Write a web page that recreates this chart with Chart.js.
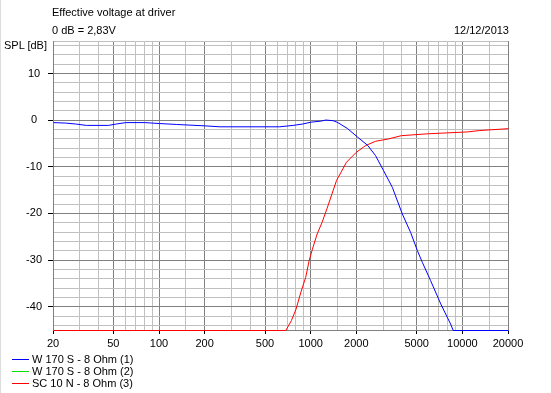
<!DOCTYPE html>
<html>
<head>
<meta charset="utf-8">
<script src="https://cdn.jsdelivr.net/npm/chart.js@4"></script>
<style>
  body { margin: 0; background: #fff; }
  #wrap { position: relative; width: 551px; height: 393px; overflow: hidden; border-left: 1px solid #dcdcdc; box-sizing: border-box; }
  canvas { position: absolute; left: -1px; top: 0; }
  .txt { position: absolute; font: 11px "Liberation Sans", Arial, sans-serif; color: #000; white-space: nowrap; line-height: 12px; }
</style>
</head>
<body>
<div id="wrap">
  <canvas id="spl-chart" width="551" height="393"></canvas>
  <div class="txt" style="left:51px; top:6px;">Effective voltage at driver</div>
  <div class="txt" style="left:51px; top:24px;">0 dB = 2,83V</div>
  <div class="txt" style="right:42px; top:24px;">12/12/2013</div>
  <div class="txt" style="right:504px; top:39px;">SPL [dB]</div>
</div>
<script>
// W 170 S woofer (1); (2) is the same driver and sits hidden under it
const wooferFreq = [20, 24, 28, 33, 46, 52, 60, 80, 100, 130, 200, 250, 620, 760, 880, 1000, 1150, 1250, 1400, 1500, 1740, 2020, 2360, 2660, 3000, 3430, 3990, 4530, 5020, 5410, 6130, 7150, 8300, 8650, 20000];
const wooferSpl = [-0.4, -0.5, -0.7, -1.0, -1.0, -0.7, -0.4, -0.4, -0.6, -0.8, -1.1, -1.3, -1.3, -1.0, -0.7, -0.3, -0.1, 0.15, 0.0, -0.4, -1.7, -3.5, -5.3, -7.5, -10.7, -14.3, -20, -24, -27.9, -30.4, -34.3, -39.3, -43.6, -45, -45];

// SC 10 N tweeter (3)
const tweeterFreq = [20, 680, 740, 795, 855, 920, 970, 1020, 1095, 1180, 1270, 1470, 1710, 1980, 2290, 2660, 3240, 3930, 5890, 7920, 10700, 12950, 20000];
const tweeterSpl = [-45, -45, -42.9, -40.4, -36.8, -33.6, -30, -27.5, -24.3, -21.8, -18.9, -12.8, -8.9, -6.8, -5.3, -4.4, -3.9, -3.2, -2.8, -2.6, -2.4, -2.1, -1.7];

const freqLabels = [20, 50, 100, 200, 500, 1000, 2000, 5000, 10000, 20000];
const freqGrid = [20, 30, 40, 50, 60, 70, 80, 90, 100, 150, 200, 300, 400, 500, 600, 700, 800, 900,
  1000, 1500, 2000, 3000, 4000, 5000, 6000, 7000, 8000, 9000, 10000, 15000, 20000];
const dbLabels = [10, 0, -10, -20, -30, -40];
const dbGrid = [-44, -42, -40, -38, -36, -34, -32, -30, -28, -26, -24, -22, -20, -18, -16, -14, -12, -10,
  -8, -6, -4, -2, 0, 2, 4, 6, 8, 10, 12, 14, 16, 17];

function toPoints(xs, ys) {
  return xs.map((x, i) => ({ x: x, y: ys[i] }));
}

// shift curves half a pixel so 1px lines land on whole pixels
const crispLines = {
  id: 'crispLines',
  beforeDatasetsDraw(chart) {
    chart.ctx.save();
    chart.ctx.translate(0.5, 0.5);
  },
  afterDatasetsDraw(chart) {
    chart.ctx.restore();
  }
};

// legend list under the plot, one row per dataset (hidden ones too)
const bottomLegend = {
  id: 'bottomLegend',
  afterDraw(chart) {
    const c = chart.ctx;
    c.save();
    c.font = '11px "Liberation Sans", Arial, sans-serif';
    c.textBaseline = 'middle';
    c.fillStyle = '#000';
    chart.data.datasets.forEach((ds, i) => {
      const y = 359 + i * 12;
      c.strokeStyle = ds.borderColor;
      c.lineWidth = 1;
      c.beginPath();
      c.moveTo(12, y + 0.5);
      c.lineTo(29, y + 0.5);
      c.stroke();
      c.fillText(ds.label, 32, y + 1);
    });
    c.restore();
  }
};

Chart.defaults.font.family = '"Liberation Sans", Arial, sans-serif';
Chart.defaults.font.size = 11;
Chart.defaults.color = '#000';

const ctx = document.getElementById('spl-chart');
new Chart(ctx, {
  type: 'line',
  data: {
    datasets: [
      { label: 'W 170 S - 8 Ohm (1)', data: toPoints(wooferFreq, wooferSpl), borderColor: '#0000ff' },
      { label: 'W 170 S - 8 Ohm (2)', data: toPoints(wooferFreq, wooferSpl), borderColor: '#00e000', hidden: true },
      { label: 'SC 10 N - 8 Ohm (3)', data: toPoints(tweeterFreq, tweeterSpl), borderColor: '#ff0000' }
    ]
  },
  plugins: [crispLines, bottomLegend],
  options: {
    responsive: false,
    animation: false,
    layout: { padding: { top: 41, right: 43, left: 0, bottom: 0 } },
    elements: {
      line: { borderWidth: 1, tension: 0, fill: false },
      point: { radius: 0 }
    },
    datasets: { line: { clip: 2 } },
    plugins: {
      legend: { display: false },
      tooltip: { enabled: false }
    },
    scales: {
      x: {
        type: 'logarithmic',
        min: 20,
        max: 20000,
        afterBuildTicks: axis => { axis.ticks = freqGrid.map(v => ({ value: v })); },
        afterFit: axis => { axis.height = 63; },
        border: { color: '#808080' },
        grid: {
          color: c => freqLabels.includes(c.tick.value) ? '#808080' : '#c0c0c0',
          tickColor: c => freqLabels.includes(c.tick.value) ? '#000' : 'rgba(0,0,0,0)',
          tickLength: 4
        },
        ticks: {
          autoSkip: false,
          maxRotation: 0,
          padding: 3,
          callback: v => freqLabels.includes(v) ? String(v) : ''
        }
      },
      y: {
        min: -45,
        max: 17,
        afterBuildTicks: axis => { axis.ticks = dbGrid.map(v => ({ value: v })); },
        afterFit: axis => { axis.width = 53; },
        border: { color: '#808080' },
        grid: {
          color: c => dbLabels.includes(c.tick.value) ? '#808080' : '#c0c0c0',
          tickColor: c => dbLabels.includes(c.tick.value) ? '#000' : 'rgba(0,0,0,0)',
          tickLength: 5
        },
        ticks: {
          autoSkip: false,
          crossAlign: 'center',
          padding: 6,
          callback: v => dbLabels.includes(v) ? String(v) : ''
        }
      }
    }
  }
});
</script>
</body>
</html>
